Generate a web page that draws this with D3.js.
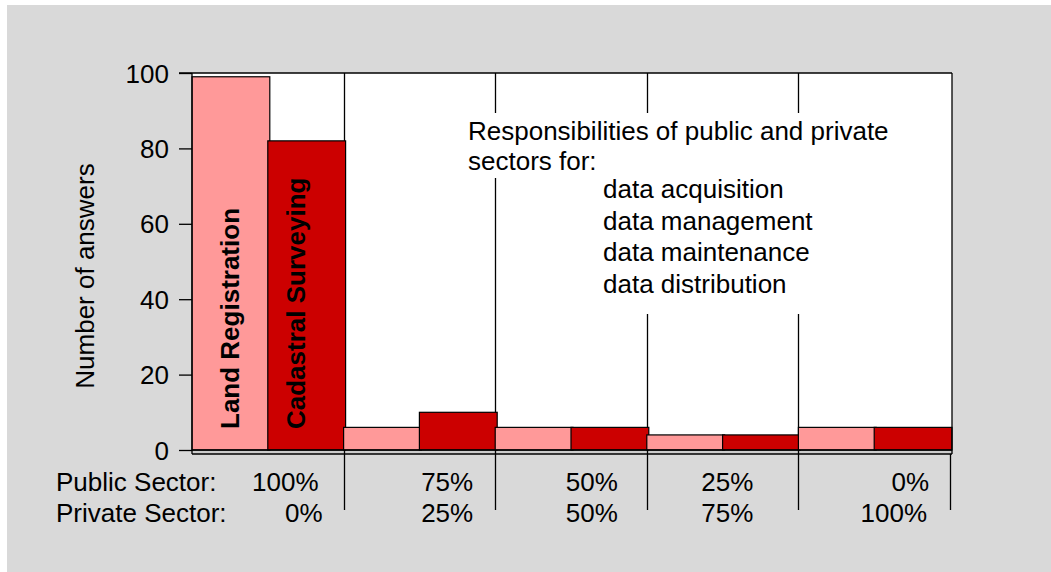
<!DOCTYPE html>
<html>
<head>
<meta charset="utf-8">
<script src="https://cdn.jsdelivr.net/npm/d3@7"></script>
<style>
  html, body { margin: 0; padding: 0; background: #fff; }
  svg text { font-family: "Liberation Sans", Arial, sans-serif; fill: #000; }
</style>
</head>
<body>
<svg id="chart" width="1051" height="572"></svg>
<script>
// data
const groups = ["g100", "g75", "g50", "g25", "g0"];
const publicShare = ["100%", "75%", "50%", "25%", "0%"];
const privateShare = ["0%", "25%", "50%", "75%", "100%"];
const series = ["Land Registration", "Cadastral Surveying"];
const landRegistration = [99, 6, 6, 4, 6];
const cadastralSurveying = [82, 10, 6, 4, 6];
const yTicks = [0, 20, 40, 60, 80, 100];
const noteHeader = ["Responsibilities of public and private", "sectors for:"];
const noteItems = ["data acquisition", "data management", "data maintenance", "data distribution"];

const svg = d3.select("#chart");
const FONT = 26;

// page background (white strip top/left, grey elsewhere)
svg.append("rect").attr("x", 7).attr("y", 5).attr("width", 1044).attr("height", 567).attr("fill", "#d9d9d9");

const plotTop = 73, zeroY = 450, floorY = 454, plotLeft = 192, plotRight = 952;

const x = d3.scaleBand().domain(groups).range([plotLeft, 950]).padding(0);
const xs = d3.scaleBand().domain(series).range([0, x.bandwidth()]).padding(0);
const y = d3.scaleLinear().domain([0, 100]).range([zeroY, plotTop]);

// plot area
svg.append("rect").attr("x", plotLeft).attr("y", plotTop).attr("width", plotRight - plotLeft).attr("height", zeroY - plotTop).attr("fill", "#fff");
svg.append("rect").attr("x", plotLeft).attr("y", zeroY).attr("width", plotRight - plotLeft).attr("height", floorY - zeroY).attr("fill", "#cccccc");

// group separators
const seps = groups.map(g => x(g) + x.bandwidth()).map(v => Math.round(v) + 0.5);
svg.append("g").selectAll("line").data(seps).join("line")
  .attr("x1", d => d).attr("x2", d => d)
  .attr("y1", (d, i) => i === seps.length - 1 ? floorY : plotTop).attr("y2", 510)
  .attr("stroke", "#000").attr("stroke-width", 1.3);

// bars
const rows = groups.map((g, i) => ({ g, values: [landRegistration[i], cadastralSurveying[i]] }));
const color = d3.scaleOrdinal().domain(series).range(["#ff9999", "#cc0000"]);

const bars = svg.append("g").selectAll("g").data(rows).join("g")
  .attr("transform", d => `translate(${x(d.g)},0)`);
bars.selectAll("rect").data(d => d.values.map((v, k) => ({ s: series[k], v })))
  .join("rect")
  .attr("x", d => xs(d.s))
  .attr("y", d => y(d.v))
  .attr("width", xs.bandwidth() + 2)
  .attr("height", d => zeroY - y(d.v))
  .attr("fill", d => color(d.s))
  .attr("stroke", "#000").attr("stroke-width", 1.2);

// bar series labels in first group
const labelOffset = [47, 37];
svg.append("g").selectAll("text").data(series).join("text")
  .attr("transform", (d, i) => `translate(${x(groups[0]) + xs(d) + labelOffset[i]},${zeroY - 21}) rotate(-90)`)
  .attr("font-size", FONT).attr("font-weight", "bold")
  .text(d => d);

// frame
const frame = svg.append("g").attr("fill", "none").attr("stroke", "#000").attr("stroke-width", 1.3);
frame.append("line").attr("x1", 179).attr("x2", plotRight).attr("y1", plotTop).attr("y2", plotTop);
frame.append("line").attr("x1", plotRight).attr("x2", plotRight).attr("y1", plotTop).attr("y2", floorY);
frame.append("line").attr("x1", plotLeft).attr("x2", plotRight).attr("y1", floorY).attr("y2", floorY);
frame.append("line").attr("x1", plotLeft).attr("x2", plotRight).attr("y1", zeroY).attr("y2", zeroY);

// y axis
const yAxis = svg.append("g").attr("transform", `translate(${plotLeft},0)`)
  .call(d3.axisLeft(y).tickValues(yTicks).tickSize(13).tickPadding(10).tickFormat(d3.format("d")));
yAxis.select(".domain").attr("d", `M0,${plotTop}V${floorY}`).attr("stroke-width", 1.3);
yAxis.selectAll(".tick line").attr("stroke-width", 1.3);
yAxis.selectAll(".tick text").attr("font-size", FONT).attr("font-family", "Liberation Sans, Arial, sans-serif").attr("dy", "0.35em");

svg.append("text")
  .attr("transform", `translate(94,276) rotate(-90)`)
  .attr("text-anchor", "middle").attr("font-size", FONT)
  .text("Number of answers");

// bottom category rows
svg.append("text").attr("x", 56).attr("y", 491).attr("font-size", FONT).text("Public Sector:");
svg.append("text").attr("x", 56).attr("y", 522).attr("font-size", FONT).text("Private Sector:");
const pubRight = [25, 22, 29, 45, 21];
const privRight = [21, 22, 29, 45, 23];
svg.append("g").selectAll("text").data(publicShare).join("text")
  .attr("x", (d, i) => x(groups[i]) + x.bandwidth() - pubRight[i]).attr("y", 491)
  .attr("text-anchor", "end").attr("font-size", FONT).text(d => d);
svg.append("g").selectAll("text").data(privateShare).join("text")
  .attr("x", (d, i) => x(groups[i]) + x.bandwidth() - privRight[i]).attr("y", 522)
  .attr("text-anchor", "end").attr("font-size", FONT).text(d => d);

// note boxes (white, covering separators)
svg.append("rect").attr("x", 460).attr("y", 113).attr("width", 440).attr("height", 65).attr("fill", "#fff");
svg.append("rect").attr("x", 590).attr("y", 178).attr("width", 235).attr("height", 136).attr("fill", "#fff");
svg.append("g").selectAll("text").data(noteHeader).join("text")
  .attr("x", 468).attr("y", (d, i) => 140 + i * 30).attr("font-size", FONT).text(d => d);
svg.append("g").selectAll("text").data(noteItems).join("text")
  .attr("x", 603).attr("y", (d, i) => 198 + i * 31.5).attr("font-size", FONT).text(d => d);
</script>
</body>
</html>
